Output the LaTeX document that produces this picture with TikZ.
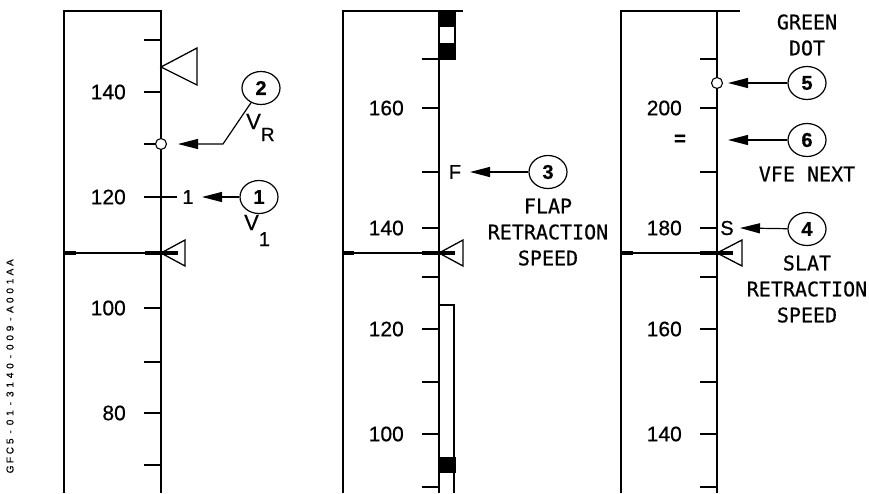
\documentclass[tikz,border=0pt]{standalone}
\usepackage{fontspec}
\setmainfont[FakeBold=0.6]{Liberation Sans}
\newfontfamily\numf[FakeBold=0.6]{Liberation Sans}
\newfontfamily\monof[FakeBold=0.6]{DejaVu Sans Mono}
\usetikzlibrary{shapes.geometric,arrows.meta}
\newcommand\ltr[1]{\makebox[9.4pt]{#1}}
\begin{document}
\begin{tikzpicture}[x=1pt,y=-1pt,
  scl/.style={line width=1.3pt},
  thk/.style={line width=4pt},
  num/.style={font=\numf\fontsize{21}{24}\selectfont, anchor=east, inner sep=0pt},
  mk/.style={font=\numf\fontsize{20}{22}\selectfont, inner sep=0pt},
  lbl/.style={font=\monof\fontsize{20}{22}\selectfont, inner sep=0pt},
  callout/.style={ellipse, draw, line width=1.2pt, minimum width=38pt, minimum height=33pt, inner sep=0pt, font=\numf\bfseries\fontsize{20}{22}\selectfont},
  dotm/.style={circle, draw, fill=white, line width=1.1pt, minimum size=11pt, inner sep=0pt},
  arr/.style={line width=1.2pt, -{Triangle[length=20pt,width=10pt]}},
  tri/.style={draw, fill=white, line width=1.3pt, line join=miter},
  vlab/.style={font=\numf\fontsize{22}{24}\selectfont, inner sep=0pt, anchor=base west}
]
\useasboundingbox (0,0) rectangle (869,493);

% ---------- Panel 1 ----------
\draw[scl] (64,493) -- (64,11) -- (161,11) -- (161,493);
\foreach \y in {40,92,144,308,362,413,465} \draw[scl] (144,\y) -- (161,\y);
\draw[scl] (144,197) -- (177,197);
\draw[tri] (161,67) -- (197,48) -- (197,85) -- cycle;
\draw[scl] (64,253) -- (161,253);
\draw[tri] (161,253) -- (185,240) -- (185,266) -- cycle;
\draw[thk] (64,253) -- (76,253);
\draw[thk] (145,253) -- (178,253);
\node[num] (n140a) at (126,92) {140};
\node[num] (n120a) at (126,197) {120};
\node[num] (n100a) at (126,308) {100};
\node[num] (n80a) at (126,413) {80};
\node[dotm] (d2) at (161,144) {};
\node[mk] (m1) at (188,197) {1};
\node[callout] (c1) at (259,197) {1};
\node[callout] (c2) at (261,88) {2};
\coordinate (t1) at (202,197);
\coordinate (b2) at (223,144);
\coordinate (t2) at (178,144);
\draw[arr] (c1) -- (t1);
\draw[arr] (c2) -- (b2) -- (t2);
\node[vlab] (v1) at (244,230) {V\raisebox{-16pt}{\fontsize{20}{20}\selectfont 1}};
\node[vlab] (vr) at (246,129) {V\raisebox{-12pt}{\fontsize{19}{19}\selectfont R}};

% ---------- Panel 2 ----------
\draw[scl] (343,493) -- (343,11) -- (463,11);
\draw[scl] (439,11) -- (439,493);
\fill (439,11) rectangle (455,27);
\fill (439,43) rectangle (455,59);
\draw[line width=1.2pt] (439,11) rectangle (455,59);
\draw[line width=1.2pt] (454,493) -- (454,305) -- (439,305);
\fill (439,457) rectangle (456,473);
\foreach \y in {59,108,172,228,277,329,382,434,487} \draw[scl] (422,\y) -- (439,\y);
\draw[scl] (343,253) -- (439,253);
\draw[tri] (439,253) -- (463,240) -- (463,266) -- cycle;
\draw[thk] (343,253) -- (354,253);
\draw[thk] (422,253) -- (455,253);
\node[num] (n160b) at (404,108) {160};
\node[num] (n140b) at (404,228) {140};
\node[num] (n120b) at (404,329) {120};
\node[num] (n100b) at (404,434) {100};
\node[mk] (mf) at (455,172) {F};
\node[callout] (c3) at (548,172) {3};
\coordinate (t3) at (470,172);
\draw[arr] (c3) -- (t3);
\node[lbl] (flap) at (548,206) {FLAP};
\node[lbl] (retr3) at (548,232) {RETRACTION};
\node[lbl] (spd3) at (548,258) {SPEED};

% ---------- Panel 3 ----------
\draw[scl] (621,493) -- (621,11) -- (740,11);
\draw[scl] (717,11) -- (717,493);
\foreach \y in {59,108,172,228,277,329,382,434,487} \draw[scl] (700,\y) -- (717,\y);
\draw[scl] (621,253) -- (717,253);
\draw[tri] (717,253) -- (742,240) -- (742,266) -- cycle;
\draw[thk] (621,253) -- (633,253);
\draw[thk] (700,253) -- (733,253);
\node[num] (n200c) at (682,108) {200};
\node[num] (n180c) at (682,228) {180};
\node[num] (n160c) at (682,329) {160};
\node[num] (n140c) at (682,434) {140};
\node[dotm] (d5) at (717,83) {};
\node[mk, font=\numf\bfseries\fontsize{20}{22}\selectfont] (meq) at (680,140) {=};
\node[mk] (ms) at (727,228) {S};
\node[callout] (c5) at (807,83) {5};
\node[callout] (c6) at (807,140) {6};
\node[callout] (c4) at (807,229) {4};
\coordinate (t5) at (728,83);
\coordinate (t6) at (728,140);
\coordinate (t4) at (740,228);
\draw[arr] (c5) -- (t5);
\draw[arr] (c6) -- (t6);
\draw[arr] (c4) -- (t4);
\node[lbl] (green) at (807,22) {GREEN};
\node[lbl] (dotl) at (807,48) {DOT};
\node[lbl] (vfe) at (807,174) {VFE NEXT};
\node[lbl] (slat) at (807,263) {SLAT};
\node[lbl] (retr4) at (807,289) {RETRACTION};
\node[lbl] (spd4) at (807,315) {SPEED};

% ---------- side reference ----------
\node[rotate=90, inner sep=0pt, font=\numf\fontsize{10}{12}\selectfont] (ref) at (10,366)
  {\ltr{G}\ltr{F}\ltr{C}\ltr{5}\ltr{-}\ltr{0}\ltr{1}\ltr{-}\ltr{3}\ltr{1}\ltr{4}\ltr{0}\ltr{-}\ltr{0}\ltr{0}\ltr{9}\ltr{-}\ltr{A}\ltr{0}\ltr{0}\ltr{1}\ltr{A}\ltr{A}};
\end{tikzpicture}
\end{document}
